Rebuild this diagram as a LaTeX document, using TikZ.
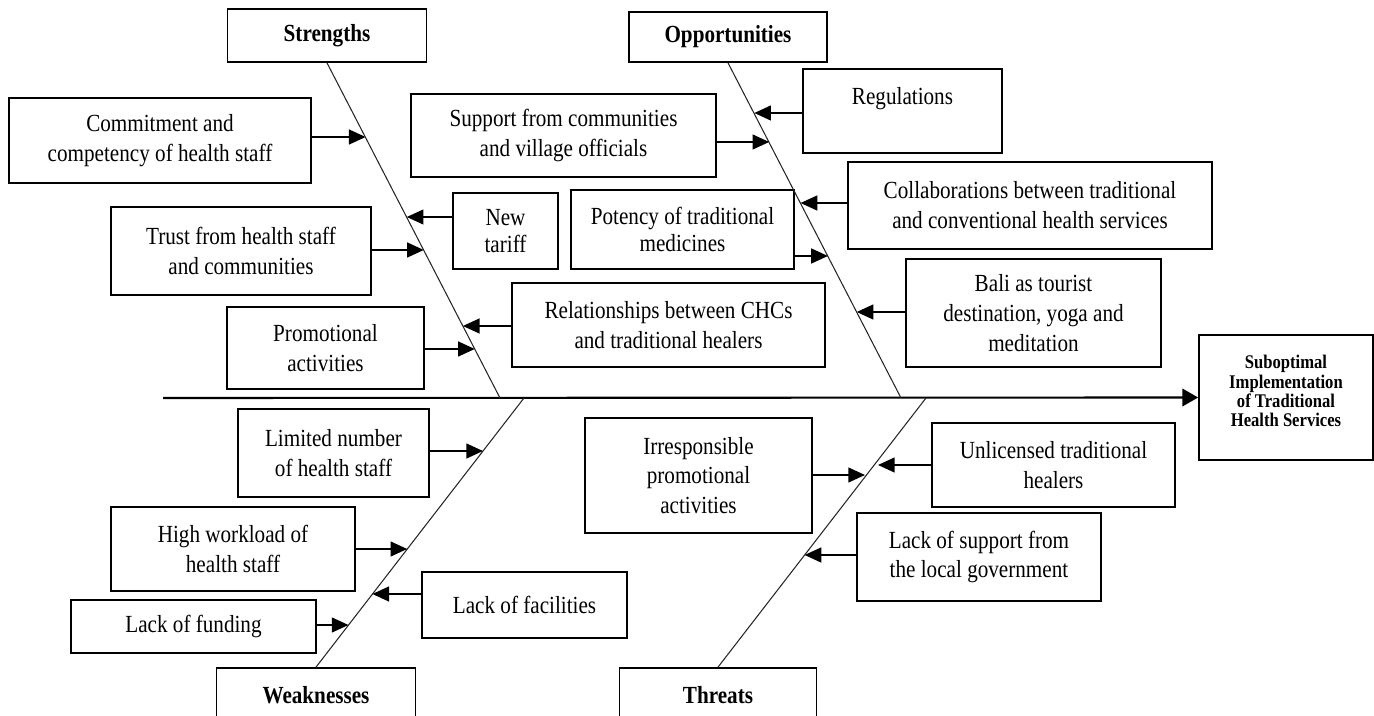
\documentclass[tikz,border=0pt]{standalone}
\usepackage{fontspec}
\setmainfont[FakeStretch=0.86]{Liberation Serif}
\usetikzlibrary{arrows.meta}

\begin{document}
\begin{tikzpicture}[x=0.02cm,y=-0.02cm,
	box/.style={draw,line width=1pt,align=center,inner sep=0pt,font=\fontsize{14}{17}\selectfont},
	head/.style={box,font=\fontsize{14}{17}\selectfont\bfseries},
	arr/.style={-{Triangle[length=9.5pt,width=8.5pt]},line width=0.9pt},
	spine/.style={line width=0.6pt,black!85}]
									\clip (0,0) rectangle (1374,716);
									\foreach \nm/\x/\y/\w/\h/\txt in {str/327/35.5/199/53/Strengths,opp/728/37/198/50/Opportunities,wea/316/695/199/54/Weaknesses,thr/718/695/197/54/Threats}
           								\node[head,minimum width=\w*0.02cm,minimum height=\h*0.02cm](\nm) at (\x,\y){\txt};
									\foreach \nm/\x/\y/\w/\h/\txt in {com/160/140.5/302/85/{Commitment and\\competency of health staff},tru/241/251/260/88/{Trust from health staff\\and communities},pro/325.5/348/197/82/{Promotional\\activities},sup/563.5/135.5/305/83/{Support from communities\\and village officials},rel/668.5/325/313/84/{Relationships between CHCs\\and traditional healers},reg/902.5/111/199/84/{Regulations\\~},col/1030/205.5/364/87/{Collaborations between traditional\\and conventional health services},bal/1033.5/313/255/108/{Bali as tourist\\destination, yoga and\\meditation},lim/333.5/453/191/88/{Limited number\\of health staff},hig/233/549/244/84/{High workload of\\health staff},fac/524.5/605/205/66/{Lack of facilities},fun/193.5/626.5/245/53/{Lack of funding},irr/698.5/475.5/227/115/{Irresponsible\\promotional\\activities},unl/1053.5/465/243/84/{Unlicensed traditional\\healers},gov/979/557/244/88/{Lack of support from\\the local government}}
           								\node[box,minimum width=\w*0.02cm,minimum height=\h*0.02cm](\nm) at (\x,\y){\txt};
           							\node[box,font=\fontsize{14}{15}\selectfont,minimum width=2.1cm,minimum height=1.52cm](tar) at (505.5,231){New\\tariff};
           							\node[box,font=\fontsize{14}{15}\selectfont,minimum width=4.46cm,minimum height=1.58cm](pot) at (682.5,229.5){Potency of traditional\\medicines};
           							\node[box,font=\fontsize{11}{11}\selectfont\bfseries,minimum width=3.48cm,minimum height=2.5cm](res) at (1286,397.5){Suboptimal\\Implementation\\of Traditional\\Health Services\\[-3.6pt]~};
           							
           							\coordinate (h0) at (163,398);
           							\coordinate (sE) at (500,398);
           							\coordinate (oE) at (901,398);
           							\coordinate (wS) at (524,398);
           							\coordinate (tS) at (926,398);
           							\draw[line width=1.2pt,-{Triangle[length=9pt,width=10pt]}] (h0) -- (res.west);
           							\draw[spine] (str.south) -- (sE);
           							\draw[spine] (opp.south) -- (oE);
           							\draw[spine] (wS) -- (wea.north);
           							\draw[spine] (tS) -- (thr.north);
           							
           							\foreach \nm/\x/\y in {com/365.6/137,tru/423.8/250,pro/474.8/349,sup/769.2/142,pot/827.9/256,lim/483/451,hig/407.2/549,fun/348.5/625,irr/865/475}
           								{\coordinate (t-\nm) at (\x,\y);
           								\draw[arr] (\nm.east |- t-\nm) -- (t-\nm);}
           							\foreach \nm/\x/\y in {tar/406.8/217,rel/462.9/326,reg/754.3/113,col/800.6/203,bal/856.7/312,fac/372.4/594,unl/878/465,gov/804.6/555}
           								{\coordinate (t-\nm) at (\x,\y);
           								\draw[arr] (\nm.west |- t-\nm) -- (t-\nm);}
           						\end{tikzpicture}
\end{document}
